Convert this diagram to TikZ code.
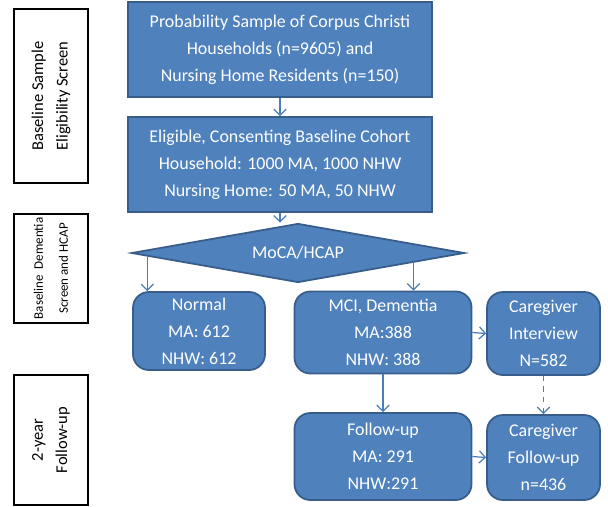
\documentclass[tikz,border=0pt]{standalone}
\usepackage{fontspec}
\setmainfont{Carlito}
\usepackage{tikz}
\usetikzlibrary{arrows.meta}
\usetikzlibrary{shapes.geometric}
\usetikzlibrary{calc}
\usepackage{xcolor}
\definecolor{boxblue}{HTML}{4F81BD}
\definecolor{edgeblue}{HTML}{385D8A}
\definecolor{arrblue}{HTML}{4A7EBB}
\newcommand{\boxfont}{\fontsize{10.2}{15.4}\selectfont}
\newcommand{\phfont}{\fontsize{9.4}{13.9}\selectfont}
\newcommand{\phsmall}{\fontsize{7.4}{14.2}\selectfont}

\begin{document}
\begin{tikzpicture}
\tikzstyle{every node}=[font=\boxfont]
\tikzstyle{sqbox}=[draw=edgeblue,fill=boxblue,line width=1pt,text=white,align=center,minimum width=6.08cm,minimum height=1.9cm]
\tikzstyle{rbox}=[draw=edgeblue,fill=boxblue,line width=1pt,text=white,align=center,rounded corners=9pt,inner sep=0pt]
\tikzstyle{phase}=[draw=black,line width=0.6pt,align=center,rotate=90,inner sep=0pt,font=\phfont]
\tikzstyle{arr}=[draw=arrblue,line width=0.7pt,-{Straight Barb[length=3.5pt,width=7pt]}]
\useasboundingbox (0,0) rectangle (12.16,-10.14);
\node[phase,minimum width=3.48cm,minimum height=1.48cm] (ph1) at (1.02,-1.92) {Baseline Sample\\Eligibility Screen};
\node[phase,font=\phsmall,minimum width=2.18cm,minimum height=1.48cm] (ph2) at (1.02,-5.37) {Baseline~ Dementia\\Screen and HCAP};
\node[phase,minimum width=2.60cm,minimum height=1.48cm] (ph3) at (1.02,-8.80) {2-year\\Follow-up};
\node[sqbox] (smp) at (5.60,-0.99) {Probability Sample of Corpus Christi\\Households (n=9605) and\\Nursing Home Residents (n=150)};
\node[sqbox] (coh) at (5.60,-3.29) {Eligible, Consenting Baseline Cohort\\Household: 1000 MA, 1000 NHW\\Nursing Home: 50 MA, 50 NHW};
\node[draw=edgeblue,fill=boxblue,line width=1pt,text=white,diamond,aspect=5.6,inner sep=0pt,minimum width=6.66cm,minimum height=1.18cm] (moca) at (5.96,-5.06) {MoCA/HCAP};
\node[rbox,minimum width=2.64cm,minimum height=1.56cm] (nrm) at (3.98,-6.62) {Normal\\MA: 612\\NHW: 612};
\node[rbox,minimum width=3.54cm,minimum height=1.64cm] (mci) at (7.66,-6.65) {MCI, Dementia\\MA:388\\NHW: 388};
\node[rbox,minimum width=2.26cm,minimum height=1.66cm] (cgi) at (10.87,-6.67) {Caregiver\\Interview\\N=582};
\node[rbox,minimum width=3.54cm,minimum height=1.74cm] (fup) at (7.66,-9.13) {Follow-up\\MA: 291\\NHW:291};
\node[rbox,minimum width=2.26cm,minimum height=1.70cm] (cgf) at (10.87,-9.15) {Caregiver\\Follow-up\\n=436};
\coordinate (ml) at ($(moca.west)!0.1!(moca.south)$);
\coordinate (mr) at ($(moca.east)!0.31!(moca.south)$);
\draw[arr] (smp) -- (coh);
\draw[arr] (coh.south) -- (coh.south |- moca.north);
\draw[arr] (ml) -- (ml |- nrm.north);
\draw[arr] (mr) -- (mr |- mci.north);
\draw[arr] (mci.east) -- (cgi.west);
\draw[arr] (mci.south) -- (mci.south |- fup.north);
\draw[arr] (fup.east) -- (cgf.west);
\draw[arr,dashed] (cgi) -- (cgf);
\end{tikzpicture}
\end{document}
